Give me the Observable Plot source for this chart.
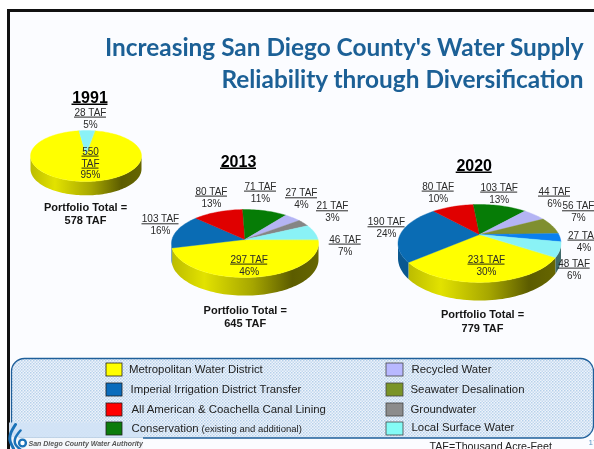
<!DOCTYPE html>
<html><head><meta charset="utf-8">
<script src="https://cdn.jsdelivr.net/npm/d3@7"></script>
<script src="https://cdn.jsdelivr.net/npm/@observablehq/plot@0.6"></script>
<style>html,body{margin:0;padding:0;background:#fff}svg{display:block}</style>
</head><body><div id="chart"></div>
<script>
// ---------- data ----------
const sources1991 = ["Metropolitan Water District", "Local Surface Water"];
const values1991 = [550, 28];
const shares1991 = [95, 5];
const sources2013 = ["Metropolitan Water District", "Imperial Irrigation District Transfer", "All American & Coachella Canal Lining", "Conservation", "Recycled Water", "Groundwater", "Local Surface Water"];
const values2013 = [297, 103, 80, 71, 27, 21, 46];
const shares2013 = [46, 16, 13, 11, 4, 3, 7];
const sources2020 = ["Metropolitan Water District", "Imperial Irrigation District Transfer", "All American & Coachella Canal Lining", "Conservation", "Recycled Water", "Seawater Desalination", "Groundwater 2020", "Local Surface Water"];
const values2020 = [231, 190, 80, 103, 44, 56, 27, 48];
const shares2020 = [30, 24, 10, 13, 6, 7, 4, 6];
const totals = [578, 645, 779];
const legendLeft = ["Metropolitan Water District", "Imperial Irrigation District Transfer", "All American & Coachella Canal Lining", "Conservation"];
const legendRight = ["Recycled Water", "Seawater Desalination", "Groundwater", "Local Surface Water"];

// ---------- styles ----------
const topColor = {
  "Metropolitan Water District": "#ffff00",
  "Imperial Irrigation District Transfer": "#0a6cb4",
  "All American & Coachella Canal Lining": "#e00000",
  "Conservation": "#067c06",
  "Recycled Water": "#b4b4f4",
  "Seawater Desalination": "#7f8f30",
  "Groundwater": "#858585",
  "Groundwater 2020": "#0a80f0",
  "Local Surface Water": "#8af2f6"
};
const sideColor = {
  "Metropolitan Water District": "url(#sideYellow)",
  "Imperial Irrigation District Transfer": "#0a5890",
  "Local Surface Water": "#3f6a6a"
};
const swatchColor = {
  "Metropolitan Water District": "#ffff00",
  "Imperial Irrigation District Transfer": "#0a6cbc",
  "All American & Coachella Canal Lining": "#ff0000",
  "Conservation": "#0c7c0c",
  "Recycled Water": "#b8b8ff",
  "Seawater Desalination": "#7a9428",
  "Groundwater": "#8c8c8c",
  "Local Surface Water": "#84fbf6"
};
const font = "'Liberation Sans', Arial, sans-serif";

// ---------- pie geometry (layout, in chart units) ----------
// a circle seen in perspective: k = perspective strength, a = vertical radius, r = horizontal radius
const pies = [
  {sources: sources1991, values: values1991, cx: 85.5, cy: 154, r: 55.4, a: 25.4, k: 0.06, d: 13, start: 9.7},
  {sources: sources2013, values: values2013, cx: 244.5, cy: 239, r: 73, a: 33.5, k: 0.118, d: 16, start: 90},
  {sources: sources2020, values: values2020, cx: 479, cy: 234, r: 79.3, a: 36.9, k: 0.23, d: 14, start: 123}
];
const rad = Math.PI / 180;
function pt(p, deg, drop) {
  const sn = Math.sin(deg * rad), cs = Math.cos(deg * rad), s = 1 / (1 + p.k * cs);
  return {x: p.cx + p.r * sn * s, y: p.cy - p.a * cs * s + (drop ? p.d * s : 0)};
}
function steps(a, b) { const out = []; for (let t = a; t < b; t += 2) out.push(t); out.push(b); return out; }
const tops = [], sides = [];
for (const p of pies) {
  const total = d3.sum(p.values);
  const east = Math.acos(-p.k) / rad, west = 360 - east;
  let a0 = p.start;
  p.values.forEach((v, i) => {
    const a1 = a0 + v / total * 360;
    tops.push({src: p.sources[i], pts: [{x: p.cx, y: p.cy}, ...steps(a0, a1).map(t => pt(p, t, false))]});
    // only the front of the rim is visible; handle wrap by testing both turns
    for (const shift of [0, 360]) {
      const lo = Math.max(a0, east + shift), hi = Math.min(a1, west + shift);
      if (hi > lo) {
        const ang = steps(lo, hi);
        sides.push({src: p.sources[i], pts: [...ang.map(t => pt(p, t, false)), ...ang.slice().reverse().map(t => pt(p, t, true))]});
      }
    }
    a0 = a1;
  });
}

// ---------- labels (layout) ----------
const labels = [
  {a: "28 TAF", b: shares1991[1] + "%", x: 90, y: 115},
  {a: "297 TAF", b: shares2013[0] + "%", x: 248.7, y: 262},
  {a: "103 TAF", b: shares2013[1] + "%", x: 160, y: 221.7},
  {a: "80 TAF", b: shares2013[2] + "%", x: 211, y: 194},
  {a: "71 TAF", b: shares2013[3] + "%", x: 260, y: 189},
  {a: "27 TAF", b: shares2013[4] + "%", x: 301, y: 195.7},
  {a: "21 TAF", b: shares2013[5] + "%", x: 332, y: 208.7},
  {a: "46 TAF", b: shares2013[6] + "%", x: 344.7, y: 242},
  {a: "231 TAF", b: shares2020[0] + "%", x: 486, y: 262},
  {a: "190 TAF", b: shares2020[1] + "%", x: 386, y: 224.7},
  {a: "80 TAF", b: shares2020[2] + "%", x: 437.7, y: 189},
  {a: "103 TAF", b: shares2020[3] + "%", x: 498.7, y: 190},
  {a: "44 TAF", b: shares2020[4] + "%", x: 554, y: 194},
  {a: "56 TAF", b: shares2020[5] + "%", x: 578, y: 208.7},
  {a: "27 TAF", b: shares2020[6] + "%", x: 583.5, y: 238},
  {a: "48 TAF", b: shares2020[7] + "%", x: 573.7, y: 266}
];
labels.forEach(l => l.hw = l.a.length > 6 ? 18.5 : 16);
const stacked = [
  {t: "550", x: 90, y: 154, hw: 8.5, u: true},
  {t: "TAF", x: 90, y: 166, hw: 8.5, u: true},
  {t: shares1991[0] + "%", x: 90, y: 177.7, u: false}
];
const years = [
  {t: "1991", x: 89.5, y: 102},
  {t: "2013", x: 238, y: 166},
  {t: "2020", x: 473.7, y: 170}
];
const portfolio = [
  {x: 85, y: 210, t: "Portfolio Total ="}, {x: 85, y: 223, t: totals[0] + " TAF"},
  {x: 244.7, y: 313.3, t: "Portfolio Total ="}, {x: 244.7, y: 326.7, t: totals[1] + " TAF"},
  {x: 482, y: 317, t: "Portfolio Total ="}, {x: 482, y: 331.7, t: totals[2] + " TAF"}
];
const rowsY = [363, 383, 403, 422];
const leftText = [{x: 128.5, y: 372.7}, {x: 130, y: 392.7}, {x: 131, y: 412}, {x: 131, y: 431}];
const rightText = [{x: 411, y: 372.7}, {x: 410, y: 392.7}, {x: 410, y: 412}, {x: 411, y: 430.5}];
// logo strokes (layout)
const logoOuter = [{x: 15, y: 424}, {x: 10.5, y: 432}, {x: 9.5, y: 440}, {x: 13, y: 448}];
const logoMiddle = [{x: 20, y: 430}, {x: 15, y: 437}, {x: 15, y: 444}, {x: 20, y: 449}];

const defs = () => {
  const ns = "http://www.w3.org/2000/svg";
  const d = document.createElementNS(ns, "defs");
  d.innerHTML = `
   <pattern id="dots" width="3" height="3" patternUnits="userSpaceOnUse">
     <rect width="3" height="3" fill="#eef4fb"/>
     <rect x="0" y="0" width="1.5" height="1.5" fill="#b6d0ea"/>
     <rect x="1.5" y="1.5" width="1.5" height="1.5" fill="#c4d9ef"/>
   </pattern>
   <linearGradient id="sideYellow" x1="0" x2="1" y1="0" y2="0">
     <stop offset="0" stop-color="#bcbc00"/><stop offset=".22" stop-color="#e2e200"/>
     <stop offset=".55" stop-color="#a6a600"/><stop offset=".82" stop-color="#5c5c00"/>
     <stop offset="1" stop-color="#666600"/>
   </linearGradient>`;
  return d;
};

const textBase = {fontFamily: font, fontSize: 10, fill: "#2a2a2a"};
const titleBase = {textAnchor: "end", fontFamily: "Lato, sans-serif", fontWeight: "bold", fontSize: 24.4, fill: "#1c6096", lineAnchor: "bottom"};
const marks = [
  defs,
  // page frame
  Plot.rect([{}], {x1: () => 8.5, x2: () => 600, y1: () => 10.5, y2: () => 460, fill: "#fbfcff", stroke: "#111", strokeWidth: 3}),
  // title
  Plot.text(["Increasing San Diego County's Water Supply"], {x: () => 583, y: () => 55, text: d => d, ...titleBase}),
  Plot.text(["Reliability through Diversification"], {x: () => 583, y: () => 87, text: d => d, ...titleBase}),
  // pie rims
  ...sides.map(s => Plot.line(s.pts, {x: "x", y: "y", curve: "linear-closed", fill: sideColor[s.src] || "#444", stroke: "none"})),
  // pie tops
  ...tops.map(s => Plot.line(s.pts, {x: "x", y: "y", curve: "linear-closed", fill: topColor[s.src], stroke: topColor[s.src], strokeWidth: 0.4})),
  // years
  Plot.text(years, {x: "x", y: "y", text: "t", fontFamily: font, fontWeight: "bold", fontSize: 16, fill: "#000", lineAnchor: "bottom"}),
  Plot.ruleY(years, {y: d => d.y + 1.8, x1: d => d.x - 18, x2: d => d.x + 18, stroke: "#000", strokeWidth: 1.4}),
  // slice labels
  Plot.text(labels, {x: "x", y: "y", text: "a", ...textBase, lineAnchor: "bottom"}),
  Plot.ruleY(labels, {y: d => d.y + 1.6, x1: d => d.x - d.hw, x2: d => d.x + d.hw, stroke: "#111", strokeWidth: 0.9}),
  Plot.text(labels, {x: "x", y: d => d.y + 12, text: "b", ...textBase, lineAnchor: "bottom"}),
  Plot.text(stacked, {x: "x", y: "y", text: "t", ...textBase, lineAnchor: "bottom"}),
  Plot.ruleY(stacked.filter(d => d.u), {y: d => d.y + 1.6, x1: d => d.x - d.hw, x2: d => d.x + d.hw, stroke: "#111", strokeWidth: 0.9}),
  Plot.text(portfolio, {x: "x", y: "y", text: "t", fontFamily: font, fontWeight: "bold", fontSize: 11, fill: "#151515", lineAnchor: "bottom"}),
  // legend panel
  Plot.rect([{}], {x1: () => 11.5, x2: () => 593.5, y1: () => 358.5, y2: () => 438, rx: 13, fill: "url(#dots)", stroke: "#1f5f9a", strokeWidth: 1.3}),
  // logo band
  Plot.rect([{}], {x1: () => 9, x2: () => 143, y1: () => 422.5, y2: () => 437.5, fill: "#d2e3f5", fillOpacity: 0.95}),
  Plot.rect([{}], {x1: () => 9, x2: () => 143, y1: () => 437.5, y2: () => 449, fill: "#f4f7fb"}),
  Plot.rect([{}], {x1: () => 7, x2: () => 10, y1: () => 437.5, y2: () => 449, fill: "#111"}),
  // logo
  Plot.line(logoOuter, {x: "x", y: "y", curve: "natural", stroke: "#1b72b8", strokeWidth: 3}),
  Plot.line(logoMiddle, {x: "x", y: "y", curve: "natural", stroke: "#1b72b8", strokeWidth: 2.5}),
  Plot.dot([{}], {x: () => 22, y: () => 442.5, r: 3.4, stroke: "#1b72b8", strokeWidth: 2.4, fill: "#fff"}),
  // swatches
  ...legendLeft.map((n, i) => Plot.rect([n], {x1: () => 106, x2: () => 122, y1: () => rowsY[i], y2: () => rowsY[i] + 13, fill: swatchColor[n], stroke: "#222", strokeWidth: 0.8})),
  ...legendRight.map((n, i) => Plot.rect([n], {x1: () => 386, x2: () => 403, y1: () => rowsY[i], y2: () => rowsY[i] + 13, fill: swatchColor[n], stroke: "#444", strokeWidth: 0.8})),
  Plot.text(legendLeft, {x: (d, i) => leftText[i].x, y: (d, i) => leftText[i].y, text: d => d, textAnchor: "start", fontFamily: font, fontSize: 11.4, fill: "#222", lineAnchor: "bottom"}),
  Plot.text(legendRight, {x: (d, i) => rightText[i].x, y: (d, i) => rightText[i].y, text: d => d, textAnchor: "start", fontFamily: font, fontSize: 11.4, fill: "#222", lineAnchor: "bottom"}),
  Plot.text(["(existing and additional)"], {x: () => 201, y: () => 431, text: d => d, textAnchor: "start", fontFamily: font, fontSize: 9.5, fill: "#222", lineAnchor: "bottom"}),
  // footer
  Plot.text(["San Diego County Water Authority"], {x: () => 28, y: () => 445.5, text: d => d, textAnchor: "start", fontFamily: font, fontStyle: "italic", fontWeight: "bold", fontSize: 7, fill: "#555", lineAnchor: "bottom"}),
  Plot.text(["TAF=Thousand Acre-Feet"], {x: () => 429, y: () => 449.5, text: d => d, textAnchor: "start", fontFamily: font, fontSize: 10.7, fill: "#222", lineAnchor: "bottom"}),
  Plot.text(["17"], {x: () => 588, y: () => 444, text: d => d, textAnchor: "start", fontFamily: font, fontSize: 8, fill: "#5b96c4", lineAnchor: "bottom"})
];

const chart = Plot.plot({
  width: 594, height: 449,
  margin: 0, marginTop: 0, marginRight: 0, marginBottom: 0, marginLeft: 0,
  x: {domain: [0, 594], range: [0, 594], axis: null},
  y: {domain: [0, 449], range: [0, 449], axis: null},
  style: {background: "#fff", overflow: "hidden", filter: "blur(0.3px)"},
  marks
});
document.getElementById("chart").append(chart);
</script></body></html>
